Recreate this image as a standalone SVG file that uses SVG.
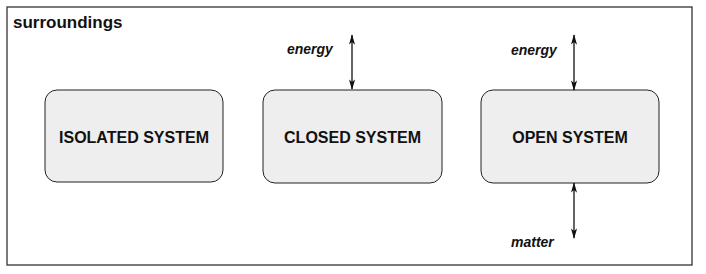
<svg xmlns="http://www.w3.org/2000/svg" width="706" height="274" viewBox="0 0 706 274">
<style>
.frame{fill:#fff;stroke:#333;stroke-width:1.3}
.box{fill:#eeeeee;stroke:#222;stroke-width:1}
.lbl{font-family:"Liberation Sans",Arial,sans-serif;font-weight:bold;font-size:16px;fill:#111;text-anchor:middle}
.title{font-family:"Liberation Sans",Arial,sans-serif;font-weight:bold;font-size:17px;fill:#111}
.it{font-family:"Liberation Sans",Arial,sans-serif;font-weight:bold;font-style:italic;font-size:14px;fill:#111}
.con{stroke:#111;stroke-width:1.3;fill:none;marker-start:url(#ah);marker-end:url(#ah)}
</style>
<defs>
<marker id="ah" viewBox="0 0 12 8" refX="11" refY="4" markerWidth="11" markerHeight="7" markerUnits="userSpaceOnUse" orient="auto-start-reverse">
<path d="M0,0.5 L12,4 L0,7.5 L3,4 Z" fill="#111"/>
</marker>
</defs>
<rect width="706" height="274" fill="#fff"/>
<g id="surroundings">
<rect class="frame" x="7" y="7" width="685" height="258"/>
<text class="title" x="13" y="28">surroundings</text>
</g>
<g id="isolated">
<rect class="box" x="45" y="90" width="178" height="92" rx="12"/>
<text class="lbl" x="134" y="143">ISOLATED SYSTEM</text>
</g>
<g id="closed">
<rect class="box" x="263" y="90" width="179" height="93" rx="12"/>
<text class="lbl" x="352.5" y="143">CLOSED SYSTEM</text>
</g>
<g id="open">
<rect class="box" x="481" y="90" width="178" height="93" rx="12"/>
<text class="lbl" x="570" y="143">OPEN SYSTEM</text>
</g>
<g id="connectors">
<line class="con" x1="352" y1="35" x2="352" y2="89"/>
<line class="con" x1="574" y1="35" x2="574" y2="90"/>
<line class="con" x1="574" y1="183" x2="574" y2="238"/>
<text class="it" x="287" y="54">energy</text>
<text class="it" x="511" y="55">energy</text>
<text class="it" x="511" y="247">matter</text>
</g>
</svg>
